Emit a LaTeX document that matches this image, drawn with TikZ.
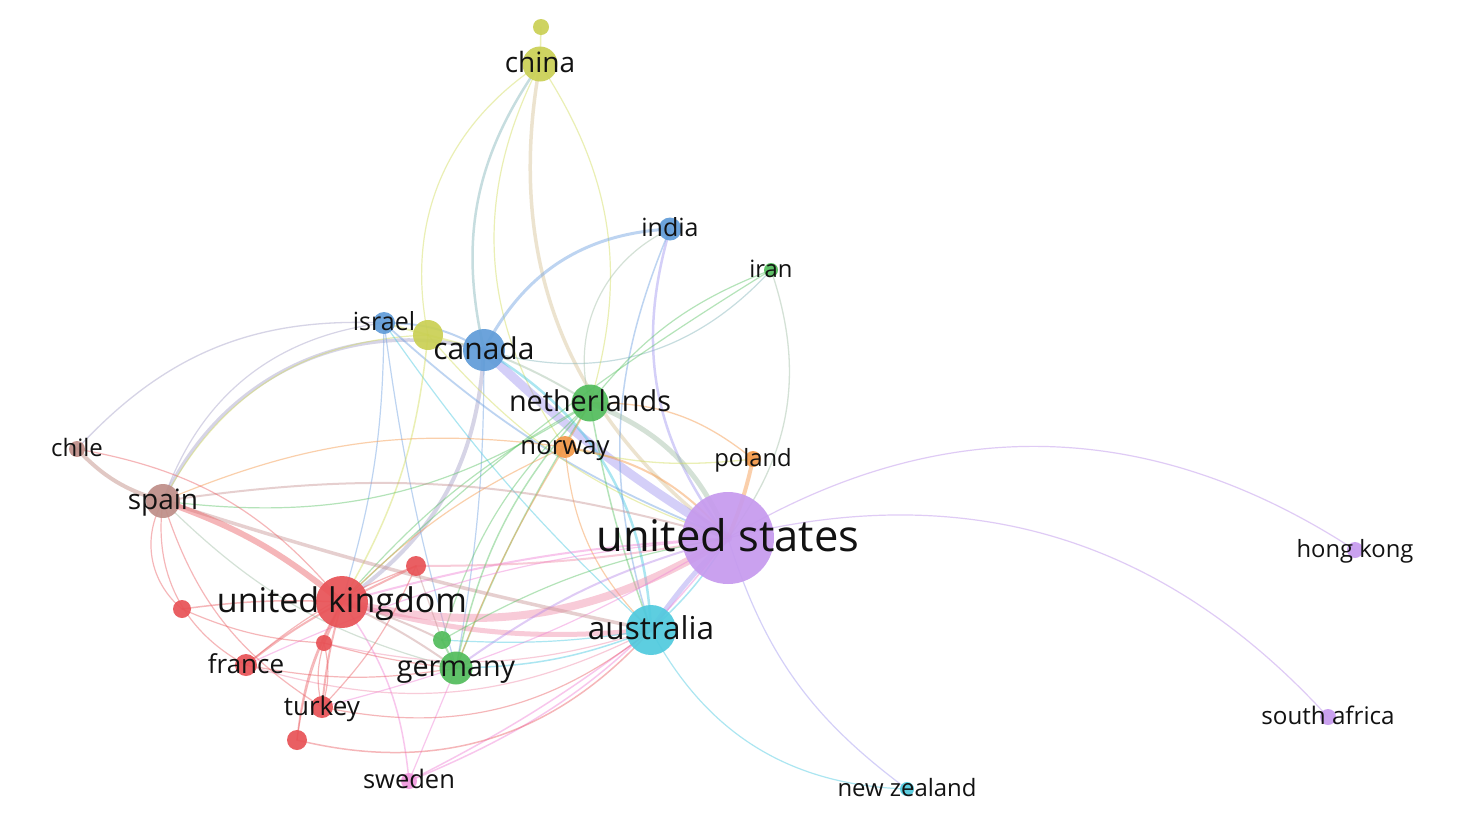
\documentclass[tikz,border=0pt]{standalone}
\usepackage{fontspec}
\setmainfont{Open Sans}
\usetikzlibrary{backgrounds}
\definecolor{nR}{RGB}{232,82,86}
\definecolor{nG}{RGB}{82,188,92}
\definecolor{nB}{RGB}{96,156,216}
\definecolor{nY}{RGB}{202,208,84}
\definecolor{nP}{RGB}{198,154,238}
\definecolor{nC}{RGB}{80,202,222}
\definecolor{nO}{RGB}{242,152,72}
\definecolor{nBr}{RGB}{190,142,136}
\definecolor{nK}{RGB}{240,152,222}
\definecolor{eR}{RGB}{235,95,100}
\definecolor{eB}{RGB}{110,160,225}
\definecolor{eG}{RGB}{90,195,100}
\definecolor{eY}{RGB}{210,220,90}
\definecolor{eP}{RGB}{185,140,235}
\definecolor{eC}{RGB}{70,200,225}
\definecolor{eO}{RGB}{245,150,70}
\definecolor{eBr}{RGB}{190,135,125}
\definecolor{eK}{RGB}{240,130,215}
\definecolor{eTeal}{RGB}{130,180,185}
\definecolor{eBeige}{RGB}{215,195,150}
\definecolor{eLav}{RGB}{160,150,240}
\definecolor{eGrey}{RGB}{165,160,200}
\definecolor{eGG}{RGB}{160,190,165}
\definecolor{ePink}{RGB}{240,140,170}
\definecolor{eRG}{RGB}{200,150,150}
\definecolor{txt}{RGB}{18,18,18}
\tikzset{
  dot/.style 2 args={circle, inner sep=0pt, minimum size=#1pt, fill=#2, fill opacity=0.92, draw=none},
  lnk/.style={line width=#1pt, line cap=round, draw opacity=0.45},
  lab/.style={font=\fontsize{#1}{#1}\selectfont, text=txt, anchor=base, inner sep=0pt, yshift={-0.31*#1pt}}
}
\begin{document}
\begin{tikzpicture}[x=1pt,y=-1pt]
\path[use as bounding box] (0,0) rectangle (1481,831);
% nodes
\node[dot={16}{nY}] (china2) at (541,27) {};
\node[dot={35}{nY}] (china) at (540,64) {};
\node[dot={23}{nB}] (india) at (670,229) {};
\node[dot={14}{nG}] (iran) at (771,270) {};
\node[dot={22}{nB}] (israel) at (384,323) {};
\node[dot={30}{nY}] (yel) at (428,335) {};
\node[dot={42}{nB}] (canada) at (484,350) {};
\node[dot={37}{nG}] (neth) at (590,403) {};
\node[dot={22}{nO}] (norway) at (565,447) {};
\node[dot={16}{nO}] (poland) at (753,459) {};
\node[dot={16}{nBr}] (chile) at (77,449) {};
\node[dot={34}{nBr}] (spain) at (163,501) {};
\node[dot={92}{nP}] (us) at (728,538) {};
\node[dot={16}{nP}] (hk) at (1355,550) {};
\node[dot={20}{nR}] (red1) at (416,566) {};
\node[dot={52}{nR}] (uk) at (342,602) {};
\node[dot={18}{nR}] (red2) at (182,609) {};
\node[dot={50}{nC}] (aus) at (651,630) {};
\node[dot={18}{nG}] (grn) at (442,640) {};
\node[dot={16}{nR}] (red3) at (324,643) {};
\node[dot={22}{nR}] (france) at (246,665) {};
\node[dot={33}{nG}] (germany) at (456,668) {};
\node[dot={22}{nR}] (turkey) at (322,707) {};
\node[dot={20}{nR}] (red4) at (297,740) {};
\node[dot={16}{nK}] (sweden) at (409,781) {};
\node[dot={16}{nP}] (sa) at (1328,717) {};
\node[dot={14}{nC}] (nz) at (907,789) {};
\begin{scope}[on background layer]
\fill[white] (0,0) rectangle (1481,831);
% china
\draw[lnk=1.5,eY] (china.center) -- (china2.center);
\draw[lnk=1.2,eY] (china.center) to[bend right=34] (yel.center);
\draw[lnk=2.5,eTeal] (china.center) to[bend right=24] (canada.center);
\draw[lnk=1.2,eY] (china.center) to[bend right=31] (norway.center);
\draw[lnk=3.5,eBeige] (china.center) to[bend right=32] (us.center);
\draw[lnk=1.2,eY] (china.center) to[bend left=25] (neth.center);
% israel / yellow / canada
\draw[lnk=2,eY] (israel.center) -- (yel.center);
\draw[lnk=2,eY] (yel.center) -- (canada.center);
\draw[lnk=2,eB] (israel.center) to[bend left=15] (canada.center);
\draw[lnk=3,eB] (canada.center) to[bend left=30] (india.center);
\draw[lnk=1.2,eTeal] (canada.center) to[bend right=32] (iran.center);
\draw[lnk=2,eGG] (canada.center) to[bend left=5] (neth.center);
\draw[lnk=9,eLav] (canada.center) to[bend right=6] (us.center);
\draw[lnk=2.5,eC] (canada.center) to[bend left=28] (aus.center);
\draw[lnk=4,eGrey] (canada.center) to[bend left=26] (uk.center);
\draw[lnk=3.5,eGrey] (canada.center) to[bend right=40] (spain.center);
\draw[lnk=1.2,eB] (canada.center) to[bend left=5] (germany.center);
\draw[lnk=1.3,eGrey] (israel.center) to[bend right=25] (chile.center);
\draw[lnk=1.2,eGrey] (israel.center) to[bend right=32] (spain.center);
\draw[lnk=1.2,eY] (yel.center) to[bend right=30] (spain.center);
\draw[lnk=1.2,eB] (israel.center) to[bend left=8] (uk.center);
\draw[lnk=1.8,eB] (israel.center) to[bend right=10] (us.center);
\draw[lnk=1.2,eC] (israel.center) to[bend right=6] (aus.center);
\draw[lnk=1.2,eB] (israel.center) to[bend right=4] (germany.center);
\draw[lnk=1.5,eY] (yel.center) to[bend left=12] (uk.center);
\draw[lnk=1.2,eY] (yel.center) to[bend right=15] (us.center);
% india / iran
\draw[lnk=2.5,eLav] (india.center) to[bend right=27] (us.center);
\draw[lnk=1.5,eB] (india.center) to[bend right=20] (aus.center);
\draw[lnk=1.2,eGG] (india.center) to[bend right=40] (neth.center);
\draw[lnk=1.2,eG] (iran.center) to[bend right=15] (neth.center);
\draw[lnk=1.2,eG] (iran.center) to[bend right=6] (uk.center);
\draw[lnk=1.3,eGG] (us.center) to[bend right=28] (iran.center);
% netherlands / norway / poland
\draw[lnk=5,eGG] (neth.center) to[bend left=23] (us.center);
\draw[lnk=1.3,eO] (neth.center) to[bend left=20] (poland.center);
\draw[lnk=1.3,eY] (norway.center) to[bend right=10] (poland.center);
\draw[lnk=1.5,eG] (neth.center) to[bend right=5] (germany.center);
\draw[lnk=1.2,eG] (neth.center) to[bend right=10] (uk.center);
\draw[lnk=1.5,eG] (neth.center) to[bend right=5] (aus.center);
\draw[lnk=1.2,eG] (spain.center) to[bend right=20] (neth.center);
\draw[lnk=1.2,eG] (grn.center) to[bend left=15] (neth.center);
\draw[lnk=1.5,eO] (neth.center) -- (norway.center);
\draw[lnk=2,eO] (norway.center) to[bend left=20] (us.center);
\draw[lnk=1.2,eO] (norway.center) to[bend right=10] (uk.center);
\draw[lnk=1.2,eO] (norway.center) to[bend right=5] (germany.center);
\draw[lnk=1.2,eO] (norway.center) to[bend right=15] (spain.center);
\draw[lnk=1.2,eO] (norway.center) to[bend right=20] (aus.center);
\draw[lnk=4,eO] (poland.center) to[bend left=5] (us.center);
% united states long links
\draw[lnk=1.2,eP] (us.center) to[bend left=32] (hk.center);
\draw[lnk=1.2,eP] (us.center) to[bend left=31] (sa.center);
\draw[lnk=1.2,eLav] (us.center) to[bend right=18] (nz.center);
\draw[lnk=1.2,eC] (aus.center) to[bend right=30] (nz.center);
\draw[lnk=5,eLav] (us.center) to[bend right=5] (aus.center);
\draw[lnk=1.5,eC] (us.center) to[bend left=8] (aus.center);
\draw[lnk=8,ePink] (uk.center) to[bend right=22] (us.center);
\draw[lnk=2,eK] (uk.center) to[bend left=6] (us.center);
\draw[lnk=5,ePink] (uk.center) to[bend right=10] (aus.center);
\draw[lnk=2,eP] (germany.center) to[bend left=10] (us.center);
\draw[lnk=1.5,eK] (sweden.center) to[bend right=15] (us.center);
\draw[lnk=1.5,eK] (sweden.center) to[bend right=5] (aus.center);
\draw[lnk=1.2,eK] (sweden.center) -- (germany.center);
\draw[lnk=1.5,eK] (uk.center) to[bend left=15] (sweden.center);
\draw[lnk=2,eRG] (spain.center) to[bend left=12] (us.center);
\draw[lnk=1.2,eK] (france.center) to[bend left=10] (us.center);
\draw[lnk=1.2,eK] (turkey.center) to[bend right=8] (us.center);
\draw[lnk=2,ePink] (red1.center) to[bend right=5] (us.center);
% australia
\draw[lnk=1.5,eC] (germany.center) to[bend right=10] (aus.center);
\draw[lnk=1.2,eC] (grn.center) to[bend right=6] (aus.center);
\draw[lnk=1.5,eR] (red4.center) to[bend right=31] (aus.center);
\draw[lnk=1.2,eR] (turkey.center) to[bend right=25] (aus.center);
\draw[lnk=1.2,ePink] (france.center) to[bend right=22] (aus.center);
\draw[lnk=3.5,eRG] (spain.center) to[bend right=3] (aus.center);
\draw[lnk=1.2,ePink] (red3.center) to[bend right=15] (aus.center);
% united kingdom and the red cluster
\draw[lnk=6,eR] (spain.center) to[bend left=10] (uk.center);
\draw[lnk=1.2,eR] (chile.center) to[bend left=20] (uk.center);
\draw[lnk=4,eBr] (chile.center) to[bend right=15] (spain.center);
\draw[lnk=2,eR] (uk.center) -- (red1.center);
\draw[lnk=1.5,eR] (red2.center) to[bend left=5] (uk.center);
\draw[lnk=2,eR] (uk.center) -- (red3.center);
\draw[lnk=2,eR] (uk.center) to[bend right=5] (france.center);
\draw[lnk=2,eR] (uk.center) to[bend right=5] (turkey.center);
\draw[lnk=1.5,eR] (uk.center) to[bend right=12] (red4.center);
\draw[lnk=2,eRG] (uk.center) to[bend left=5] (germany.center);
\draw[lnk=2,eRG] (uk.center) to[bend left=5] (grn.center);
\draw[lnk=1.2,eR] (spain.center) to[bend right=40] (red2.center);
\draw[lnk=1.2,eR] (spain.center) to[bend right=35] (france.center);
\draw[lnk=1.2,eGG] (spain.center) to[bend right=15] (germany.center);
\draw[lnk=1.2,eR] (spain.center) to[bend right=20] (turkey.center);
\draw[lnk=1.2,eR] (france.center) to[bend left=10] (red1.center);
\draw[lnk=1.2,eR] (france.center) to[bend right=10] (germany.center);
\draw[lnk=1.2,eR] (turkey.center) to[bend right=10] (red1.center);
\draw[lnk=1.2,eR] (turkey.center) to[bend left=15] (red3.center);
\draw[lnk=1.2,eR] (turkey.center) to[bend right=15] (red3.center);
\draw[lnk=1.2,eR] (red4.center) to[bend left=10] (uk.center);
\draw[lnk=1.2,eR] (red3.center) to[bend right=5] (germany.center);
\draw[lnk=1.2,eRG] (red1.center) -- (grn.center);
\draw[lnk=2,eG] (germany.center) -- (grn.center);
\draw[lnk=1.5,eG] (germany.center) to[bend left=15] (neth.center);
\draw[lnk=1.2,eG] (grn.center) to[bend left=10] (us.center);
\draw[lnk=1.2,eR] (red2.center) to[bend right=10] (red3.center);
\end{scope}
% labels
\node[lab=28] (chinaL) at (china) {china};
\node[lab=25] (indiaL) at (india) {india};
\node[lab=23.8] (iranL) at (iran) {iran};
\node[lab=25] (israelL) at (israel) {israel};
\node[lab=30] (canadaL) at (canada) {canada};
\node[lab=28.8] (nethL) at (neth) {netherlands};
\node[lab=25.7] (norwayL) at (norway) {norway};
\node[lab=23.8] (polandL) at (poland) {poland};
\node[lab=24] (chileL) at (chile) {chile};
\node[lab=28] (spainL) at (spain) {spain};
\node[lab=43.5] (usL) at (us) {united states};
\node[lab=23.8] (hkL) at (hk) {hong kong};
\node[lab=34] (ukL) at (uk) {united kingdom};
\node[lab=31.5] (ausL) at (aus) {australia};
\node[lab=26] (franceL) at (france) {france};
\node[lab=28.7] (germanyL) at (germany) {germany};
\node[lab=26] (turkeyL) at (turkey) {turkey};
\node[lab=25.5] (swedenL) at (sweden) {sweden};
\node[lab=24.2] (saL) at (sa) {south africa};
\node[lab=23.9] (nzL) at (nz) {new zealand};
\end{tikzpicture}
\end{document}
